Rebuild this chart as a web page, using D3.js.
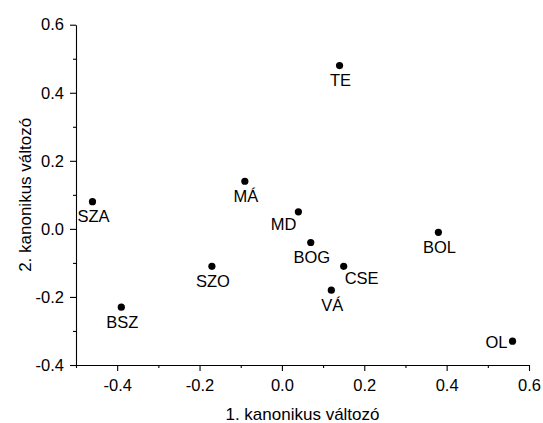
<!DOCTYPE html>
<html><head><meta charset="utf-8">
<script src="https://cdn.jsdelivr.net/npm/d3@7"></script>
<style>
body{margin:0;background:#fff;}
text{font-family:"Liberation Sans",Arial,sans-serif;fill:#000;}
</style></head>
<body>
<svg id="c" width="543" height="423"></svg>
<script>
const labels = ["TE","MÁ","SZA","MD","BOG","BOL","CSE","SZO","VÁ","BSZ","OL"];
const xVals  = [0.14,-0.09,-0.46,0.04,0.07,0.38,0.15,-0.17,0.12,-0.39,0.56];
const yVals  = [0.48,0.14,0.08,0.05,-0.04,-0.01,-0.11,-0.11,-0.18,-0.23,-0.33];
// label placement: "below" (centered), "leftBelow", "rightBelow", "left"
const labelPos = ["below","below","below","leftBelow","below","below","rightBelow","below","below","below","left"];
const xTicks = [-0.4,-0.2,0.0,0.2,0.4,0.6];
const yTicks = [-0.4,-0.2,0.0,0.2,0.4,0.6];
const xTitle = "1. kanonikus változó";
const yTitle = "2. kanonikus változó";

const FS = 16.5, TFS = 17;
const svg = d3.select("#c");
const x = d3.scaleLinear().domain([-0.5,0.6]).range([76,529]);
const y = d3.scaleLinear().domain([-0.4,0.6]).range([365,24.7]);
const fmt = v => v.toFixed(1).replace("\u2212","-");

// minor ticks
const xMinor = d3.range(-0.5,0.61,0.1).map(v=>+v.toFixed(2)).filter(v=>!xTicks.some(t=>Math.abs(t-v)<1e-9));
const yMinor = d3.range(-0.3,0.6,0.2).map(v=>+v.toFixed(2));

const gx = svg.append("g").attr("transform","translate(0,365)");
gx.call(d3.axisBottom(x).tickValues(xTicks).tickFormat(fmt).tickSize(6).tickPadding(3).tickSizeOuter(0));
gx.append("g").call(d3.axisBottom(x).tickValues(xMinor).tickSize(3).tickFormat("").tickSizeOuter(0)).select(".domain").remove();
gx.selectAll(".tick text").attr("font-size",FS).attr("font-family","Liberation Sans, Arial, sans-serif").attr("dy","1.02em");

const gy = svg.append("g").attr("transform","translate(76,0)");
gy.call(d3.axisLeft(y).tickValues(yTicks).tickFormat(fmt).tickSize(6).tickPadding(6).tickSizeOuter(0));
gy.append("g").call(d3.axisLeft(y).tickValues(yMinor).tickSize(3).tickFormat("").tickSizeOuter(0)).select(".domain").remove();
gy.selectAll(".tick text").attr("font-size",FS).attr("font-family","Liberation Sans, Arial, sans-serif");

svg.selectAll(".domain, .tick line").attr("stroke","#000").attr("stroke-width",1.1);
svg.selectAll(".tick text").attr("fill","#000");

// points
const data = labels.map((l,i)=>({l, x:xVals[i], y:yVals[i], p:labelPos[i]}));
svg.append("g").selectAll("circle").data(data).join("circle")
  .attr("cx",d=>x(d.x)).attr("cy",d=>y(d.y)).attr("r",3.6).attr("fill","#000");

svg.append("g").selectAll("text").data(data).join("text")
  .attr("font-size",FS)
  .attr("x",d=> d.p==="leftBelow" ? x(d.x)-2 : d.p==="rightBelow" ? x(d.x)+1 : d.p==="left" ? x(d.x)-5 : x(d.x)+1)
  .attr("y",d=> d.p==="left" ? y(d.y)+7 : (d.p==="leftBelow"||d.p==="rightBelow") ? y(d.y)+18 : y(d.y)+20.5)
  .attr("text-anchor",d=> (d.p==="leftBelow"||d.p==="left") ? "end" : d.p==="rightBelow" ? "start" : "middle")
  .text(d=>d.l);

// axis titles
svg.append("text").attr("x",(76+529)/2).attr("y",420).attr("text-anchor","middle").attr("font-size",TFS).text(xTitle);
svg.append("text").attr("transform",`translate(31,${(24.7+365)/2}) rotate(-90)`).attr("text-anchor","middle").attr("font-size",TFS).text(yTitle);
</script>
</body></html>
